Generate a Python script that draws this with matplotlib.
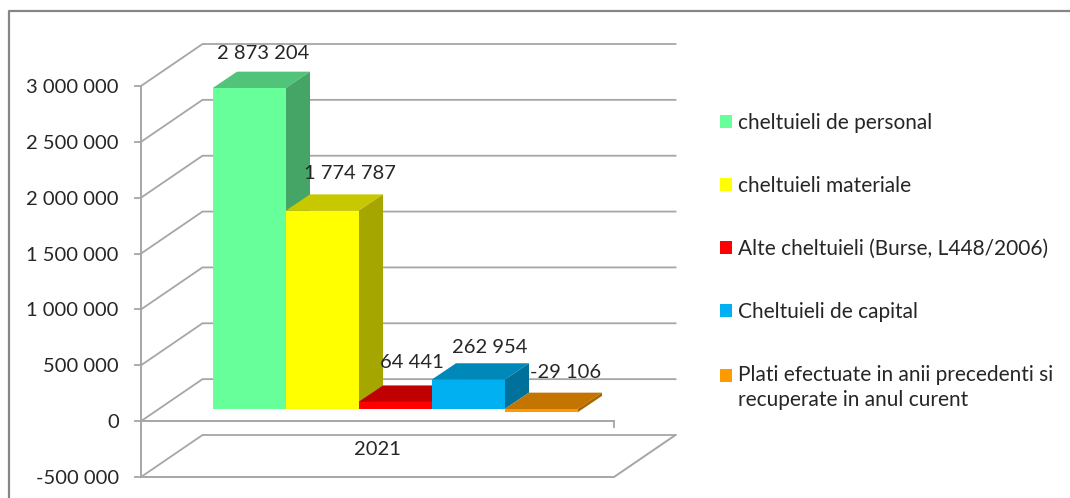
import matplotlib
matplotlib.use("Agg")
import matplotlib.pyplot as plt
from matplotlib.patches import Polygon, Patch
from matplotlib.ticker import FuncFormatter

series_names = [
    "cheltuieli de personal",
    "cheltuieli materiale",
    "Alte cheltuieli (Burse, L448/2006)",
    "Cheltuieli de capital",
    "Plati efectuate in anii precedenti si\nrecuperate in anul curent",
]
series_values = [2873204, 1774787, 64441, 262954, -29106]
category = "2021"
y_ticks = [-500000, 0, 500000, 1000000, 1500000, 2000000, 2500000, 3000000]

front_colors = ["#66FF99", "#FFFF00", "#FF0000", "#00B0F0", "#FF9900"]
top_colors = ["#52C47A", "#C8C800", "#C00000", "#0088B8", "#C47500"]
side_colors = ["#45A566", "#A6A600", "#A00000", "#00719A", "#A86400"]
label_offsets_px = [(-10, 18), (3, 21), (-8, 23), (-3, 16), (0, 20)]

GRID = "#A6A6A6"
TEXT = "#262626"
plt.rcParams["font.family"] = ["Lato", "DejaVu Sans"]
W, H = 1070, 498
fig = plt.figure(figsize=(W / 100, H / 100), dpi=100, facecolor="white")

# outer chart frame, open to the right and bottom
fig.add_artist(plt.Line2D([8.5 / W, 8.5 / W, 1], [0, 1 - 11 / H, 1 - 11 / H],
                          color="#868686", lw=1.6))

ax = fig.add_axes([141 / W, 1 - 477 / H, 473 / W, 391 / H])
ax.set_xlim(0, 1)
ax.set_ylim(-500000, 3000000)
ax.patch.set_alpha(0)

# oblique depth of the 3-D box, in data units
px_x = 1 / 473
px_y = 3500000 / 391
depth_x = 61.5 * px_x
depth_y = 42 * px_y

for v in y_ticks:
    ax.plot([0, depth_x, 1 + depth_x], [v, v + depth_y, v + depth_y],
            color=GRID, lw=1.3, clip_on=False, zorder=1)
ax.plot([0, 1, 1 + depth_x], [-500000, -500000, -500000 + depth_y],
        color=GRID, lw=1.4, clip_on=False, zorder=1)

for s in ("top", "right"):
    ax.spines[s].set_visible(False)
ax.spines["left"].set_color(GRID)
ax.spines["left"].set_linewidth(1.4)
ax.spines["bottom"].set_position(("data", 0))
ax.spines["bottom"].set_color(GRID)
ax.spines["bottom"].set_linewidth(1.4)
ax.set_yticks(y_ticks)
ax.yaxis.set_major_formatter(FuncFormatter(lambda v, _: f"{int(v):,}".replace(",", " ")))
ax.tick_params(axis="y", length=5, width=1.3, color=GRID, labelsize=14.5,
               labelcolor=TEXT, pad=11)
ax.set_xticks([0, 1])
ax.set_xticklabels([])
ax.set_xticks([0.5], minor=True)
ax.set_xticklabels([category], minor=True)
ax.tick_params(axis="x", which="major", length=5, width=1.3, color=GRID)
ax.tick_params(axis="x", which="minor", length=0, labelsize=14.5, labelcolor=TEXT, pad=14)

# bars: five side by side, placed part-way into the depth of the box
n = len(series_values)
bar_w = 73 * px_x
x_start = (1 - n * bar_w) / 2 + 17.5 * px_x
base = 12 * px_y
bar_dx = 24.5 * px_x
bar_dy = 16.5 * px_y

for i, v in enumerate(series_values):
    x0 = x_start + i * bar_w
    x1 = x0 + bar_w
    top = base + v
    hi = max(base, top)
    lo = min(base, top)
    kw = dict(clip_on=False, zorder=3 + i, lw=0)
    ax.add_patch(Polygon([(x0, hi), (x1, hi), (x1 + bar_dx, hi + bar_dy), (x0 + bar_dx, hi + bar_dy)],
                         facecolor=top_colors[i], **kw))
    ax.add_patch(Polygon([(x1, lo), (x1 + bar_dx, lo + bar_dy), (x1 + bar_dx, hi + bar_dy), (x1, hi)],
                         facecolor=side_colors[i], **kw))
    ax.add_patch(Polygon([(x0, lo), (x1, lo), (x1, hi), (x0, hi)],
                         facecolor=front_colors[i], **kw))
    ox, oy = label_offsets_px[i]
    ax.annotate(f"{v:,}".replace(",", " "),
                xy=(x0 + bar_w / 2 + bar_dx, hi + bar_dy),
                xytext=(ox * 0.72, oy * 0.72), textcoords="offset points",
                ha="center", va="center", fontsize=14.5, color=TEXT,
                zorder=20, annotation_clip=False)

handles = [Patch(facecolor=c, edgecolor="none") for c in front_colors]
leg = fig.legend(handles, series_names, loc="upper left",
                 bbox_to_anchor=(714 / W, 1 - 107 / H), bbox_transform=fig.transFigure,
                 frameon=False, fontsize=15, labelcolor=TEXT,
                 handlelength=0.58, handleheight=0.58, handletextpad=0.28,
                 labelspacing=2.06, borderpad=0.3, borderaxespad=0)
for t in leg.get_texts():
    t.set_linespacing(1.3)
# the marker of the two-line entry sits beside its first line
last = leg.legend_handles[-1]
last.set_y(last.get_y() + 9)

fig.savefig("out.png", dpi=100)
